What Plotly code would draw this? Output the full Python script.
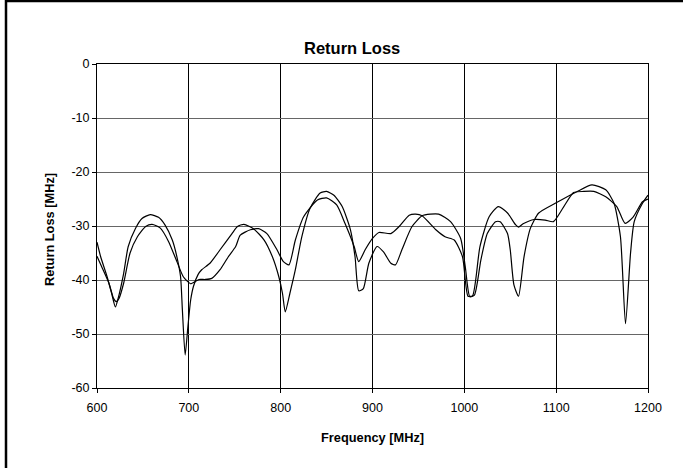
import plotly.graph_objects as go

# Return loss traces (frequency in MHz, loss in dB)
freq_a = [600, 604, 611, 616, 620, 623, 629, 634, 642, 649, 658, 667, 674, 682,
          687, 691, 693, 696, 699, 702, 705, 710, 714, 723, 734, 747, 753, 760,
          771, 782, 791, 798, 802, 805, 810, 816, 823, 832, 843, 850, 858, 867,
          876, 881, 885, 890, 896, 905, 912, 920, 925, 932, 943, 954, 963, 972,
          985, 996, 1001, 1006, 1011, 1018, 1025, 1034, 1039, 1047, 1050, 1054,
          1059, 1065, 1072, 1081, 1099, 1123, 1139, 1154, 1163, 1170, 1175.5,
          1181, 1185, 1194, 1200]
loss_a = [-33.0, -35.7, -39.4, -42.5, -45.0, -43.4, -38.8, -33.8, -30.4, -28.6,
          -27.9, -28.4, -29.8, -32.6, -35.7, -39.4, -45.6, -53.9, -48.6, -43.7,
          -41.2, -39.0, -38.1, -36.9, -34.4, -31.4, -30.1, -29.7, -30.6, -32.6,
          -35.7, -39.4, -42.5, -45.9, -42.5, -38.1, -32.0, -26.7, -23.9, -23.6,
          -24.3, -26.4, -30.7, -35.7, -42.0, -41.6, -36.9, -33.8, -34.8, -36.9,
          -37.2, -34.4, -30.1, -28.1, -27.8, -27.8, -29.2, -32.3, -37.5, -43.1,
          -42.8, -36.3, -31.4, -29.2, -29.2, -31.4, -34.4, -40.9, -43.0, -35.7,
          -30.4, -27.6, -25.8, -23.6, -22.4, -23.3, -25.8, -32.0, -48.1, -35.0,
          -29.2, -25.8, -24.3]

freq_b = [600, 605, 613, 618, 621, 624, 629, 636, 644, 653, 660, 669, 678, 687,
          694, 702, 707, 711, 718, 725, 734, 743, 751, 756, 767, 776, 785, 796,
          803, 809, 816, 825, 840, 850, 861, 870, 880, 885, 892, 900, 907, 920,
          929, 940, 947, 954, 969, 979, 989, 998, 1004, 1009, 1017, 1027, 1037,
          1047, 1056, 1059, 1064, 1076, 1088, 1097, 1108, 1119, 1130, 1141, 1154,
          1166, 1175, 1184, 1194, 1200]
loss_b = [-35.6, -37.5, -40.6, -43.4, -44.0, -43.4, -40.6, -35.0, -32.0, -30.1,
          -29.7, -30.4, -32.9, -36.6, -39.4, -40.7, -40.3, -39.9, -39.9, -39.7,
          -38.1, -35.7, -33.8, -31.7, -30.7, -30.5, -31.4, -34.4, -36.6, -37.2,
          -32.6, -28.3, -25.2, -24.8, -26.1, -29.5, -33.8, -36.6, -34.4, -32.3,
          -31.2, -31.4, -30.1, -28.0, -27.8, -28.1, -30.7, -32.0, -32.6, -35.7,
          -43.0, -42.9, -33.8, -28.3, -26.4, -27.6, -29.8, -30.2, -29.6, -28.8,
          -28.9, -29.2, -26.5, -23.8, -23.6, -23.6, -24.6, -26.4, -29.5, -28.3,
          -25.5, -25.0]

x_ticks = [600, 700, 800, 900, 1000, 1100, 1200]
y_ticks = [0, -10, -20, -30, -40, -50, -60]
y_tick_text = ['0', '-10', '-20', '-30', '-40', '-50', '-60']

FONT = 'Liberation Sans, Arial, sans-serif'

# plot area in pixels: x 97..648, y 64..388
L, R, T, B = 97, 648, 64, 388
W, H = R - L, B - T


def px_x(p):
    return (p - L) / W


def px_y(p):
    return (B - p) / H


fig = go.Figure()
for xs, ys in [(freq_a, loss_a), (freq_b, loss_b)]:
    fig.add_trace(go.Scatter(
        x=xs, y=ys, mode='lines',
        line=dict(color='black', width=1.2, shape='spline', smoothing=0.6),
        showlegend=False, hoverinfo='x+y'
    ))

fig.update_layout(
    width=683, height=468,
    margin=dict(l=L, r=683 - R, t=T, b=468 - B),
    paper_bgcolor='white', plot_bgcolor='white',
    font=dict(family=FONT, size=12.5, color='black'),
    showlegend=False,
)

fig.update_xaxes(
    range=[600, 1200], tickvals=x_ticks, ticks='outside', ticklen=4,
    tickcolor='black', showgrid=True, gridcolor='black', gridwidth=1,
    showline=True, linecolor='black', linewidth=1, mirror=True,
    zeroline=False, ticklabelstandoff=4
)
fig.update_yaxes(
    range=[-60, 0], tickvals=y_ticks, ticktext=y_tick_text, ticks='outside',
    ticklen=4, tickcolor='black', showgrid=True, gridcolor='#666666',
    gridwidth=1, showline=True, linecolor='black', linewidth=1, mirror=True,
    zeroline=False
)

# titles placed as annotations to match the original positions
fig.add_annotation(text='<b>Return Loss</b>', xref='paper', yref='paper',
                   x=px_x(352), y=px_y(48), showarrow=False,
                   xanchor='center', yanchor='middle', font=dict(size=16.5))
fig.add_annotation(text='<b>Frequency [MHz]</b>', xref='paper', yref='paper',
                   x=px_x(372), y=px_y(437), showarrow=False,
                   xanchor='center', yanchor='middle', font=dict(size=12.8))
fig.add_annotation(text='<b>Return Loss [MHz]</b>', xref='paper', yref='paper',
                   x=px_x(49), y=px_y(230), showarrow=False, textangle=-90,
                   xanchor='center', yanchor='middle', font=dict(size=12.8))

# outer frame: only its left and top edges fall inside the picture
fig.add_shape(type='line', xref='paper', yref='paper',
              x0=px_x(6), x1=px_x(6), y0=px_y(468), y1=px_y(0),
              line=dict(color='black', width=2.5))
fig.add_shape(type='line', xref='paper', yref='paper',
              x0=px_x(5), x1=px_x(683), y0=px_y(1), y1=px_y(1),
              line=dict(color='black', width=2.5))

fig.write_html(
    "out.html",
    config={'displayModeBar': False},
    post_script="document.body.style.margin='0';"
                "document.body.style.overflow='hidden';"
                "document.documentElement.style.overflow='hidden';"
)
